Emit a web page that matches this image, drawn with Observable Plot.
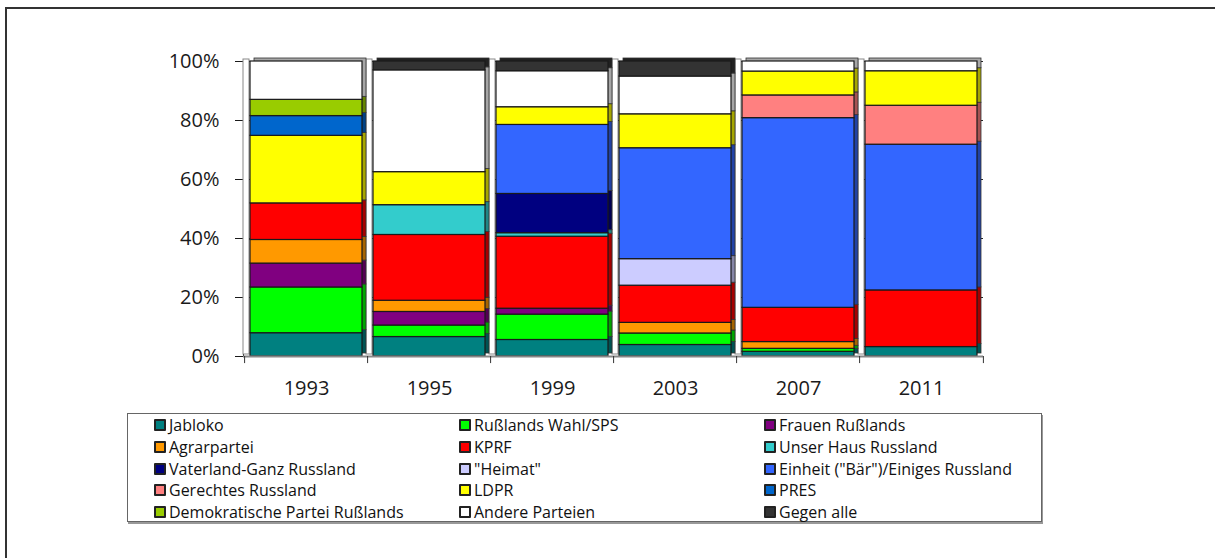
<!DOCTYPE html>
<html><head><meta charset="utf-8">
<script src="https://cdn.jsdelivr.net/npm/d3@7"></script>
<script src="https://cdn.jsdelivr.net/npm/@observablehq/plot@0.6"></script>
<style>
body{margin:0;background:#fff;width:1215px;height:558px;overflow:hidden;position:relative;font-family:"Open Sans",sans-serif;}
#frame{position:absolute;left:5px;top:7px;width:1300px;height:700px;border-left:2px solid #333;border-top:2px solid #333;}
#chart{position:absolute;left:0;top:0;}
#chart svg text{font-size:20px;fill:#1a1a1a;}
#legend{position:absolute;left:127px;top:413px;width:913px;height:107px;border:1px solid #666;box-shadow:1px 2px 0 #999;background:#fff;font-size:16px;color:#111;}
.item{position:absolute;display:flex;align-items:center;white-space:nowrap;height:20px;line-height:20px;}
.sw{width:8px;height:8px;border:2px solid #222;margin-right:3px;border-radius:1px;}
</style></head><body>
<div id="frame"></div><div id="chart"></div><div id="legend"></div>
<script>
const years = ["1993","1995","1999","2003","2007","2011"];
const parties = ["Jabloko","Rußlands Wahl/SPS","Frauen Rußlands","Agrarpartei","KPRF","Unser Haus Russland","Vaterland-Ganz Russland","\"Heimat\"","Einheit (\"Bär\")/Einiges Russland","Gerechtes Russland","LDPR","PRES","Demokratische Partei Rußlands","Andere Parteien","Gegen alle"];
const colors = ["#008080","#00ff00","#800080","#ff9900","#ff0000","#33cccc","#000080","#ccccff","#3366ff","#ff8080","#ffff00","#0066cc","#99cc00","#ffffff","#333333"];
// values in % per year (1993,1995,1999,2003,2007,2011)
const jabloko    = [7.9, 6.6, 5.6, 3.9, 1.6, 3.2];
const wahlSPS    = [15.5, 3.9, 8.6, 3.9, 1.0, 0];
const frauen     = [8.1, 4.6, 2.0, 0, 0, 0];
const agrar      = [8.0, 3.8, 0, 3.6, 2.3, 0];
const kprf       = [12.4, 22.3, 24.4, 12.6, 11.6, 19.2];
const unserHaus  = [0, 10.1, 1.2, 0, 0, 0];
const vaterland  = [0, 0, 13.3, 0, 0, 0];
const heimat     = [0, 0, 0, 9.0, 0, 0];
const einheit    = [0, 0, 23.4, 37.6, 64.3, 49.4];
const gerechtes  = [0, 0, 0, 0, 7.7, 13.2];
const ldpr       = [22.9, 11.2, 6.0, 11.5, 8.1, 11.7];
const pres       = [6.7, 0, 0, 0, 0, 0];
const dpr        = [5.5, 0, 0, 0, 0, 0];
const andere     = [13.0, 34.5, 12.2, 12.8, 3.4, 3.3];
const gegenAlle  = [0, 3.0, 3.3, 5.1, 0, 0];
const yTicks = [0, 20, 40, 60, 80, 100];

const series = [jabloko,wahlSPS,frauen,agrar,kprf,unserHaus,vaterland,heimat,einheit,gerechtes,ldpr,pres,dpr,andere,gegenAlle];
const colorOf = new Map(parties.map((p,i)=>[p,colors[i]]));
const data = [];
series.forEach((vals,i)=>years.forEach((y,j)=>{ if(vals[j]>0) data.push({year:y, party:parties[i], value:vals[j]}); }));
const dark = p => d3.color(colorOf.get(p)).darker(1.2).formatHex();

const chart = Plot.plot({
  width:1215, height:400,
  marginLeft:243, marginRight:232, marginTop:61, marginBottom:44,
  style:{fontFamily:"Open Sans, sans-serif", fontSize:"20px", color:"#1a1a1a", background:"transparent"},
  x:{domain:years, paddingInner:0.09, paddingOuter:0.04, tickSize:0, tickPadding:24, label:null},
  y:{domain:[0,100], ticks:yTicks, tickFormat:d=>d+"%", tickSize:8, tickPadding:16, label:null, line:true},
  color:{type:"identity"},
  marks:[
    Plot.ruleY(yTicks, {y:d=>d, stroke:"#222", strokeWidth:1}),
    Plot.barY(years, {x:d=>d, y:()=>100, fill:"#fff", stroke:"#888", strokeWidth:1, insetRight:106, dx:-7, dy:-2}),
    Plot.barY(data, Plot.stackY({x:"year", y:"value", fill:d=>dark(d.party), stroke:"#333", strokeWidth:0.8, dx:4, dy:-3})),
    Plot.barY(data, Plot.stackY({x:"year", y:"value", fill:d=>colorOf.get(d.party), stroke:"#1a1a1a", strokeWidth:1.2})),
    Plot.ruleY([0], {stroke:"#888", strokeWidth:2}),
    Plot.ruleX(years, {x:d=>d, y1:0, y2:-2.4, dx:-61.9, stroke:"#333"}),
    Plot.ruleX(years.slice(-1), {x:d=>d, y1:0, y2:-2.4, dx:61.9, stroke:"#333"})
  ]
});
document.getElementById("chart").appendChild(chart);

const legend = document.getElementById("legend");
const colX = [26, 331, 636];
const rowY = [1, 23, 45, 66, 88];
parties.forEach((p,i)=>{
  const el = document.createElement("div");
  el.className = "item";
  el.style.left = colX[i%3] + "px";
  el.style.top = rowY[Math.floor(i/3)] + "px";
  const sw = document.createElement("span");
  sw.className = "sw"; sw.style.background = colors[i];
  const t = document.createElement("span"); t.textContent = p;
  el.appendChild(sw); el.appendChild(t);
  legend.appendChild(el);
});
</script>
</body></html>
